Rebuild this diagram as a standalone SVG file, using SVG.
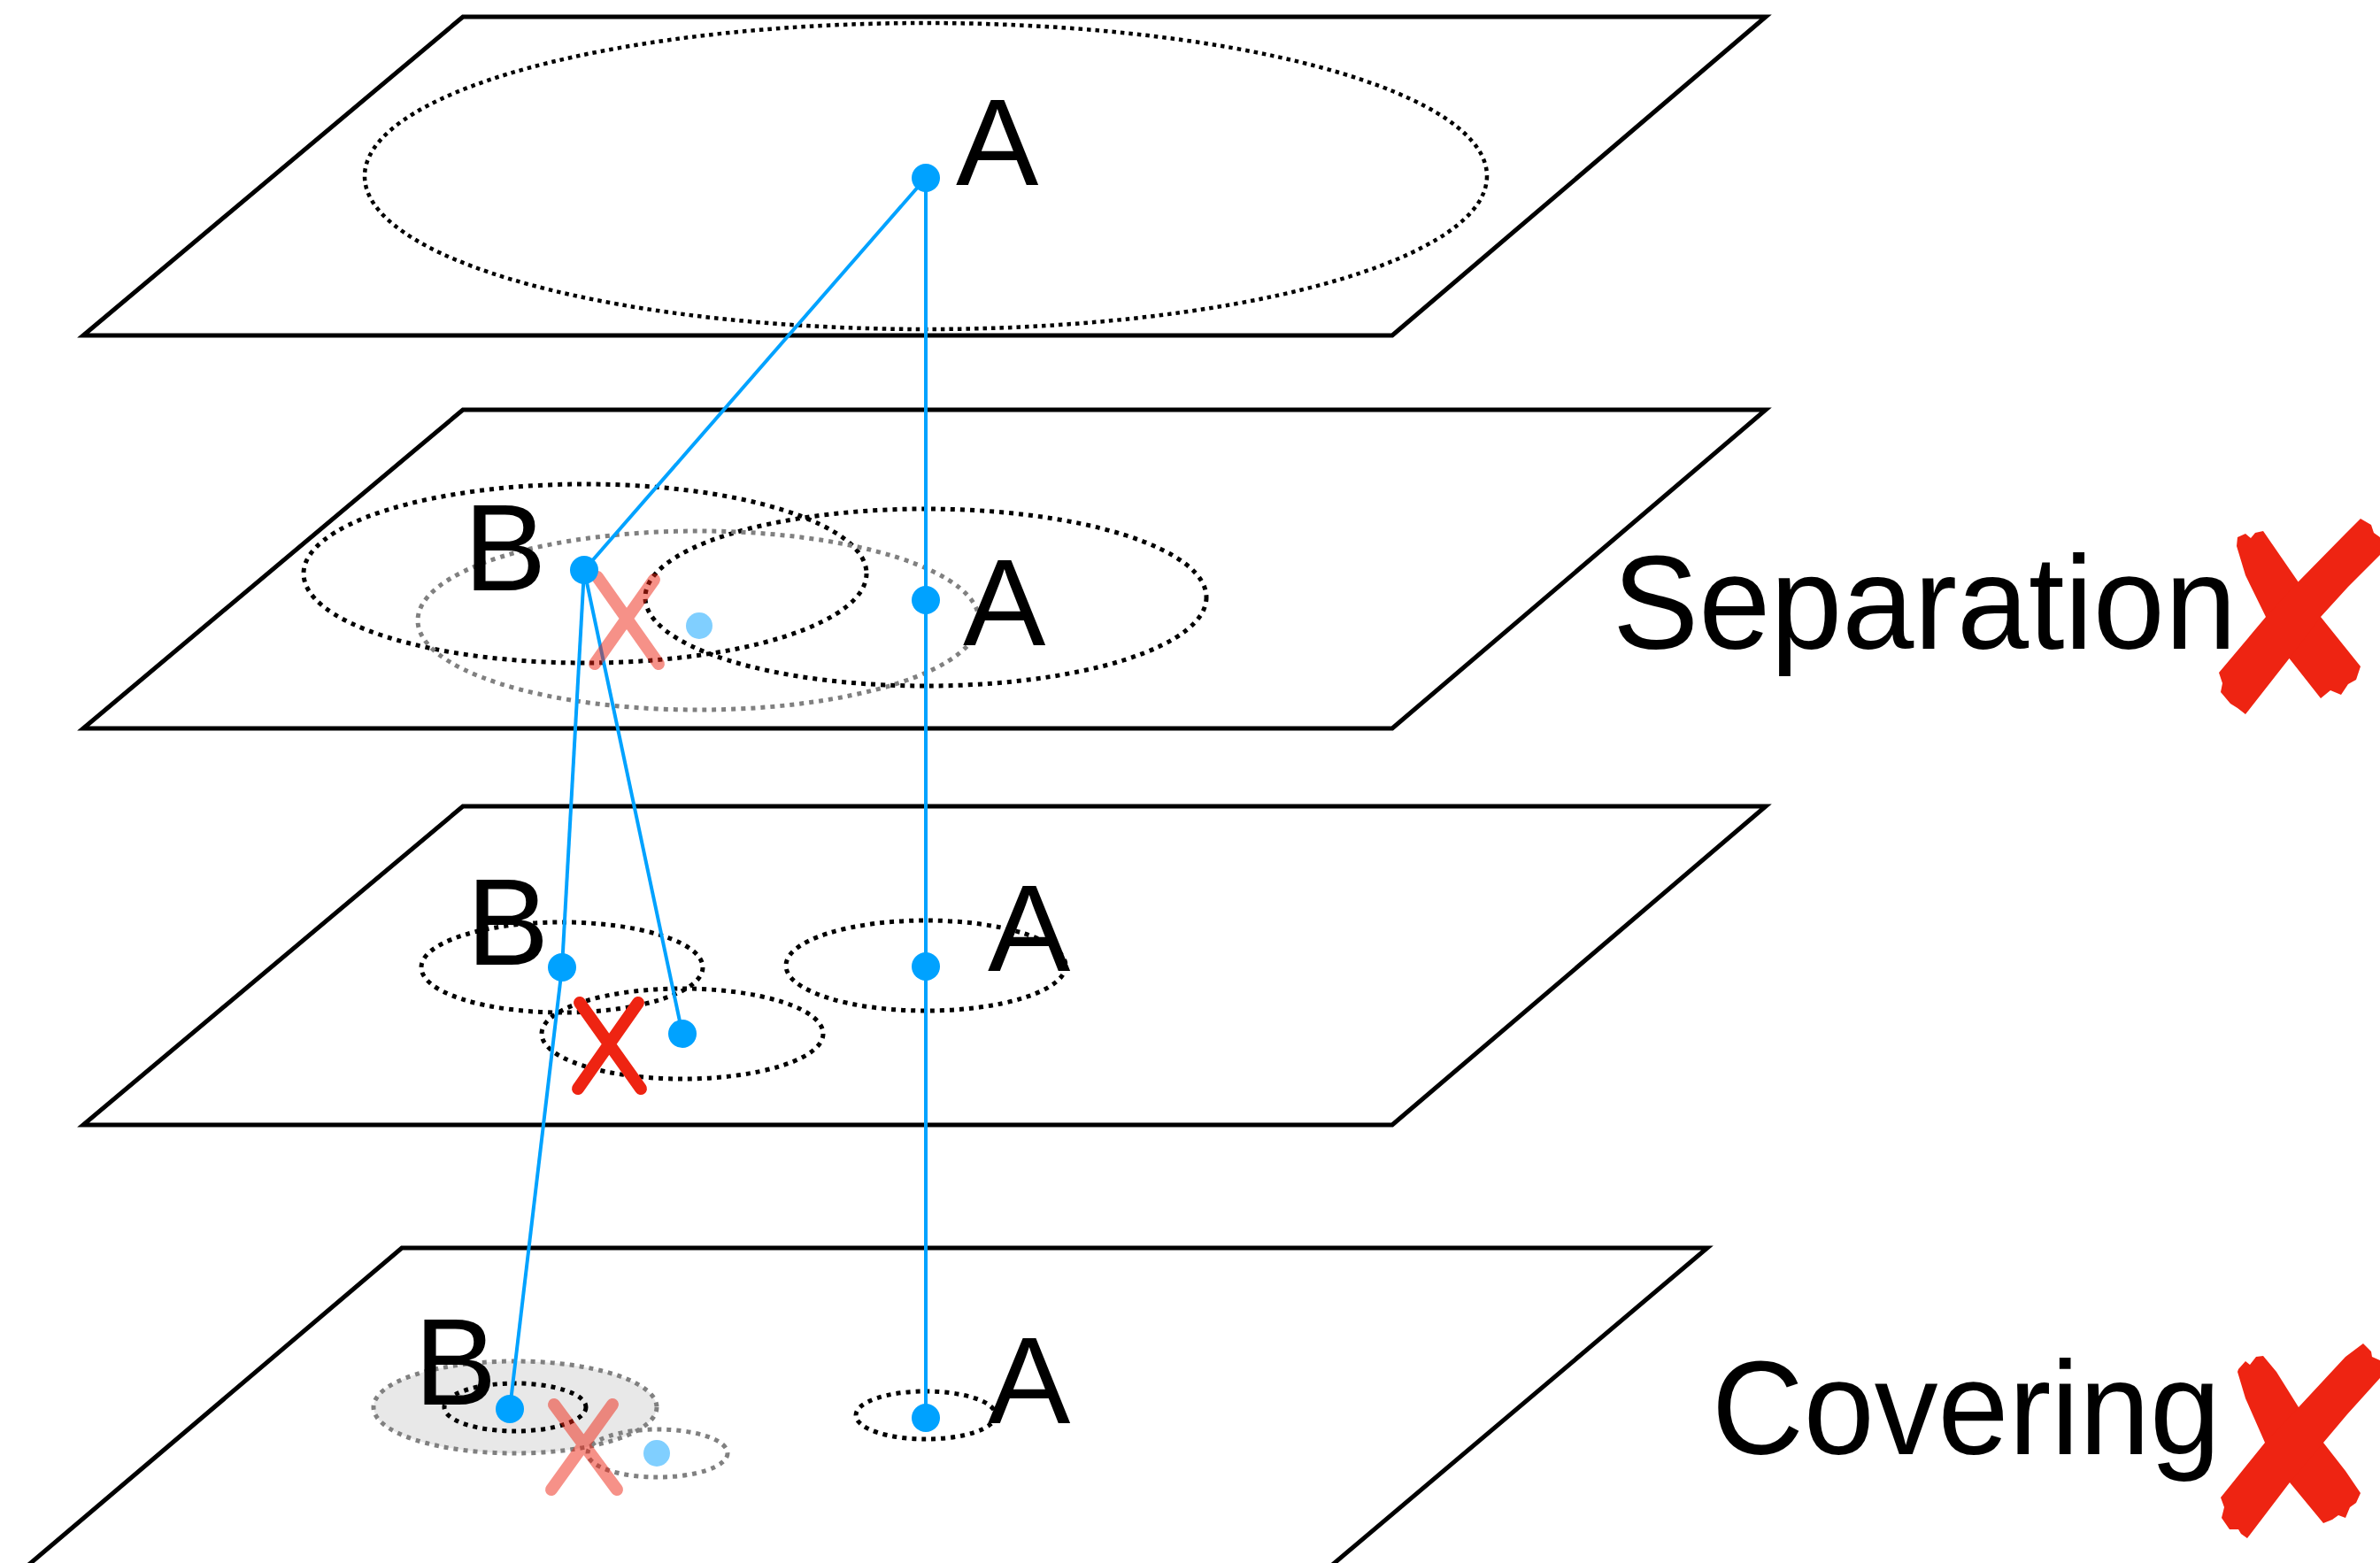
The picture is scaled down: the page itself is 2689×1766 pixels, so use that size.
<svg xmlns="http://www.w3.org/2000/svg" width="2689" height="1766" viewBox="0 0 2689 1766">
<style>
.plane{fill:none;stroke:#000;stroke-width:5;stroke-linejoin:miter}
.dot-k{fill:none;stroke:#000;stroke-width:5;stroke-dasharray:5 6}
.dot-k-fine{fill:none;stroke:#000;stroke-width:4.5;stroke-dasharray:4.5 5}
.dot-g{fill:none;stroke:#808080;stroke-width:5;stroke-dasharray:5 6}
.conn{stroke:#00A2FF;stroke-width:4;fill:none}
.node{fill:#00A2FF}
.ghost{fill:#80CFFF}
.lbl{font-family:"Liberation Sans",Arial,sans-serif;font-size:140px;fill:#000}
.big{font-family:"Liberation Sans",Arial,sans-serif;font-size:150px;fill:#000}
.xfade{stroke:#EE2412;stroke-opacity:0.5;stroke-width:14;stroke-linecap:round;fill:none}
.xred{stroke:#EE2412;stroke-width:14;stroke-linecap:round;fill:none}
.brush{fill:#EE2412}
</style>
<rect width="2689" height="1766" fill="#fff"/>

<g id="plane1">
<polygon class="plane" points="523,19 1995,19 1573,379 94,379"/>
<ellipse class="dot-k-fine" cx="1046" cy="199" rx="634" ry="173"/>
</g>
<g id="plane2">
<polygon class="plane" points="523,463 1995,463 1573,823 94,823"/>
<ellipse class="dot-k" cx="661" cy="648" rx="318" ry="101"/>
<ellipse class="dot-k" cx="1046" cy="675" rx="317" ry="100"/>
<ellipse class="dot-g" cx="789" cy="701" rx="317" ry="101"/>
</g>
<g id="plane3">
<polygon class="plane" points="523,911 1995,911 1573,1271 94,1271"/>
<ellipse class="dot-k" cx="635" cy="1093" rx="159" ry="51"/>
<ellipse class="dot-k" cx="771" cy="1168" rx="159" ry="51"/>
<ellipse class="dot-k" cx="1046" cy="1091" rx="158" ry="51"/>
</g>
<g id="plane4">
<polygon class="plane" points="454,1410 1929,1410 1503,1770 30,1770"/>
<ellipse cx="582" cy="1590" rx="160" ry="52" fill="#E8E8E8" stroke="#808080" stroke-width="5" stroke-dasharray="5 6"/>
<ellipse class="dot-k" cx="582" cy="1590" rx="80" ry="27"/>
<ellipse class="dot-g" cx="743" cy="1642" rx="79" ry="27"/>
<ellipse class="dot-k" cx="1046" cy="1599" rx="79" ry="27"/>
</g>

<g id="connectors">
<line class="conn" x1="1046" y1="201" x2="1046" y2="1602"/>
<line class="conn" x1="1046" y1="201" x2="660" y2="644"/>
<line class="conn" x1="660" y1="644" x2="635" y2="1093"/>
<line class="conn" x1="635" y1="1093" x2="576" y2="1592"/>
<line class="conn" x1="660" y1="644" x2="771" y2="1168"/>
</g>

<g id="ghosts">
<circle class="ghost" cx="790" cy="707" r="15"/>
<circle class="ghost" cx="742" cy="1642" r="15"/>
</g>

<g id="crosses">
<path class="xfade" d="M675,652 L744,750 M739,655 L672,750"/>
<path class="xred" d="M655,1133 L724,1230 M721,1133 L653,1230"/>
<path class="xfade" d="M626,1587 L697,1683 M692,1587 L623,1683"/>
</g>

<g id="node-A1"><circle class="node" cx="1046" cy="201" r="16"/><text class="lbl" x="1080" y="209">A</text></g>
<g id="node-B2"><circle class="node" cx="660" cy="644" r="16"/><text class="lbl" x="524" y="667">B</text></g>
<g id="node-A2"><circle class="node" cx="1046" cy="678" r="16"/><text class="lbl" x="1088" y="729">A</text></g>
<g id="node-B3"><circle class="node" cx="635" cy="1093" r="16"/><text class="lbl" x="527" y="1090">B</text></g>
<g id="node-B3b"><circle class="node" cx="771" cy="1168" r="16"/></g>
<g id="node-A3"><circle class="node" cx="1046" cy="1092" r="16"/><text class="lbl" x="1116" y="1097">A</text></g>
<g id="node-B4"><circle class="node" cx="576" cy="1592" r="16"/><text class="lbl" x="468" y="1587">B</text></g>
<g id="node-A4"><circle class="node" cx="1046" cy="1602" r="16"/><text class="lbl" x="1116" y="1608">A</text></g>

<g id="label-separation">
<text class="big" x="1822" y="733" textLength="705" lengthAdjust="spacingAndGlyphs">Separation</text>
<polygon class="brush" points="2528,607 2537,603 2543,608 2548,602 2557,600 2597,658 2622,697 2667,753 2662,768 2653,773 2645,785 2633,780 2622,789 2585,742 2560,697 2537,650 2527,617"/>
<polygon class="brush" points="2667,586 2679,593 2682,602 2689,607 2689,627 2653,663 2622,697 2588,742 2537,807 2528,800 2520,795 2509,782 2511,772 2507,760 2560,697 2596,658 2650,603"/>
</g>
<g id="label-covering">
<text class="big" x="1934" y="1643" textLength="575" lengthAdjust="spacingAndGlyphs">Covering</text>
<polygon class="brush" points="2529,1547 2537,1538 2542,1542 2549,1533 2557,1532 2572,1550 2597,1590 2625,1630 2650,1662 2667,1687 2662,1698 2655,1703 2650,1715 2642,1712 2635,1717 2625,1721 2587,1675 2559,1630 2537,1580 2528,1550"/>
<polygon class="brush" points="2670,1518 2679,1527 2680,1533 2689,1537 2689,1557 2652,1598 2625,1630 2587,1675 2539,1738 2532,1733 2529,1728 2519,1728 2510,1715 2513,1703 2509,1692 2559,1630 2597,1590 2650,1533"/>
</g>
</svg>
